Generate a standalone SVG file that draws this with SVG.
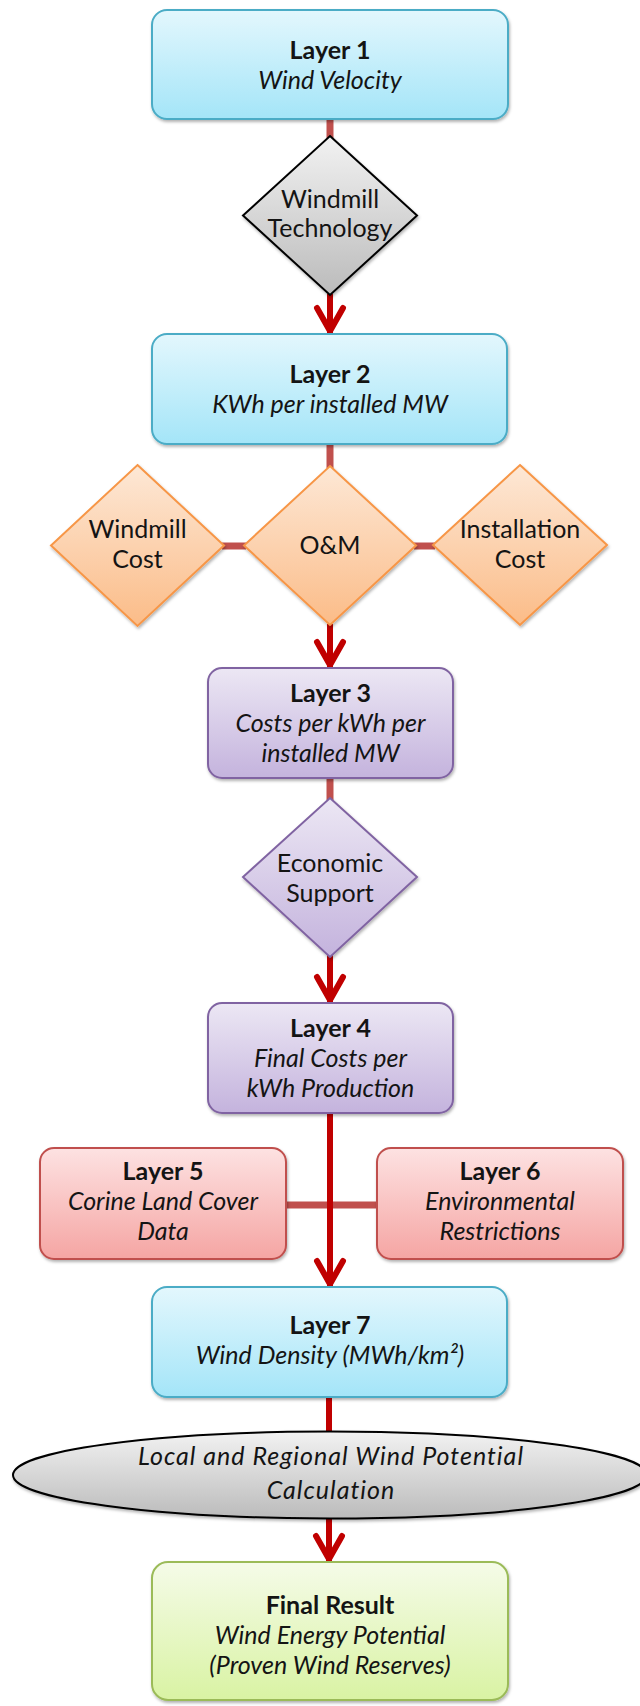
<svg xmlns="http://www.w3.org/2000/svg" width="640" height="1706" viewBox="0 0 640 1706">
  <style>
    text { font-family: Lato, "Liberation Sans", sans-serif; font-size: 25px; fill: #141414; text-anchor: middle; }
    .b { font-weight: bold; }
    .i { font-style: italic; }
    .blue { fill: url(#gBlue); stroke: #4BACC6; stroke-width: 2; filter: url(#sh); }
    .purple { fill: url(#gPurple); stroke: #8064A2; stroke-width: 2; filter: url(#sh); }
    .red { fill: url(#gRed); stroke: #C0504D; stroke-width: 2; filter: url(#sh); }
    .green { fill: url(#gGreen); stroke: #9BBB59; stroke-width: 2; filter: url(#sh); }
    .orange { fill: url(#gOrange); stroke: #F79646; stroke-width: 2; filter: url(#sh); }
    .gray { fill: url(#gGray); stroke: #000; stroke-width: 2; filter: url(#sh); }
    .link { stroke: #C0504D; stroke-width: 7; fill: none; }
    .arrow { stroke: #C00000; stroke-width: 6; fill: none; }
  </style>
  <defs>
    <linearGradient id="gBlue" x1="0" y1="0" x2="0" y2="1"><stop offset="0" stop-color="#E3F7FD"/><stop offset="1" stop-color="#A4E5F8"/></linearGradient>
    <linearGradient id="gPurple" x1="0" y1="0" x2="0" y2="1"><stop offset="0" stop-color="#ECE7F4"/><stop offset="1" stop-color="#C4B3DD"/></linearGradient>
    <linearGradient id="gRed" x1="0" y1="0" x2="0" y2="1"><stop offset="0" stop-color="#FDE2E2"/><stop offset="1" stop-color="#F5A5A3"/></linearGradient>
    <linearGradient id="gGreen" x1="0" y1="0" x2="0" y2="1"><stop offset="0" stop-color="#F5FBE8"/><stop offset="1" stop-color="#D9F3A3"/></linearGradient>
    <linearGradient id="gOrange" x1="0" y1="0" x2="0" y2="1"><stop offset="0" stop-color="#FDE8D6"/><stop offset="1" stop-color="#FBBC88"/></linearGradient>
    <linearGradient id="gGray" x1="0" y1="0" x2="0" y2="1"><stop offset="0" stop-color="#F2F2F2"/><stop offset="1" stop-color="#BBBBBB"/></linearGradient>
    <filter id="sh" x="-10%" y="-10%" width="120%" height="125%">
      <feDropShadow dx="1" dy="2" stdDeviation="1.5" flood-color="#000" flood-opacity="0.3"/>
    </filter>
    <marker id="ah" markerUnits="userSpaceOnUse" viewBox="-5 -18 34 36" refX="26" refY="0" markerWidth="34" markerHeight="36" orient="auto">
      <path d="M0,-13 L23,0 L0,13" fill="none" stroke="#C00000" stroke-width="6" stroke-linejoin="round" stroke-linecap="round"/>
    </marker>
  </defs>

  <g id="connectors">
    <line class="link" x1="330" y1="118" x2="330" y2="138"/>
    <line class="arrow" x1="330" y1="294" x2="330" y2="334" marker-end="url(#ah)"/>
    <line class="link" x1="330" y1="443" x2="330" y2="468"/>
    <line class="link" x1="222" y1="546" x2="246" y2="546"/>
    <line class="link" x1="414" y1="546" x2="435" y2="546"/>
    <line class="arrow" x1="330" y1="624" x2="330" y2="668" marker-end="url(#ah)"/>
    <line class="link" x1="330" y1="777" x2="330" y2="800"/>
    <line class="arrow" x1="330" y1="955" x2="330" y2="1003" marker-end="url(#ah)"/>
    <line class="link" x1="285" y1="1205" x2="378" y2="1205"/>
    <line class="arrow" x1="330" y1="1112" x2="330" y2="1287" marker-end="url(#ah)"/>
    <line class="arrow" x1="329" y1="1396" x2="329" y2="1434"/>
    <line class="arrow" x1="329" y1="1516" x2="329" y2="1562" marker-end="url(#ah)"/>
  </g>

  <g id="layer1">
    <rect class="blue" x="152" y="10" width="356" height="109" rx="15"/>
    <text class="b" x="330" y="59">Layer 1</text>
    <text class="i" x="330" y="89">Wind Velocity</text>
  </g>

  <g id="windmill-technology">
    <polygon class="gray" points="330,136 417,215.5 330,295 243,215.5"/>
    <text x="330" y="208">Windmill</text>
    <text x="330" y="237">Technology</text>
  </g>

  <g id="layer2">
    <rect class="blue" x="152" y="334" width="355" height="110" rx="15"/>
    <text class="b" x="330" y="383">Layer 2</text>
    <text class="i" x="330" y="413">KWh per installed MW</text>
  </g>

  <g id="windmill-cost">
    <polygon class="orange" points="137.5,465 224,545.5 137.5,626 51,545.5"/>
    <text x="137.5" y="538">Windmill</text>
    <text x="137.5" y="568">Cost</text>
  </g>

  <g id="om">
    <polygon class="orange" points="330,466 416,545.5 330,625 244,545.5"/>
    <text x="330" y="554">O&amp;M</text>
  </g>

  <g id="installation-cost">
    <polygon class="orange" points="520,465 607,545 520,625 433,545"/>
    <text x="520" y="538">Installation</text>
    <text x="520" y="568">Cost</text>
  </g>

  <g id="layer3">
    <rect class="purple" x="208" y="668" width="245" height="110" rx="14"/>
    <text class="b" x="330.5" y="702">Layer 3</text>
    <text class="i" x="330.5" y="732">Costs per kWh per</text>
    <text class="i" x="330.5" y="762">installed MW</text>
  </g>

  <g id="economic-support">
    <polygon class="purple" points="330,798 417,877 330,957 243,877"/>
    <text x="330" y="872">Economic</text>
    <text x="330" y="902">Support</text>
  </g>

  <g id="layer4">
    <rect class="purple" x="208" y="1003" width="245" height="110" rx="14"/>
    <text class="b" x="330.5" y="1037">Layer 4</text>
    <text class="i" x="330.5" y="1067">Final Costs per</text>
    <text class="i" x="330.5" y="1097">kWh Production</text>
  </g>

  <g id="layer5">
    <rect class="red" x="40" y="1148" width="246" height="111" rx="14"/>
    <text class="b" x="163" y="1180">Layer 5</text>
    <text class="i" x="163" y="1210">Corine Land Cover</text>
    <text class="i" x="163" y="1240">Data</text>
  </g>

  <g id="layer6">
    <rect class="red" x="377" y="1148" width="246" height="111" rx="14"/>
    <text class="b" x="500" y="1180">Layer 6</text>
    <text class="i" x="500" y="1210">Environmental</text>
    <text class="i" x="500" y="1240">Restrictions</text>
  </g>

  <g id="layer7">
    <rect class="blue" x="152" y="1287" width="355" height="110" rx="15"/>
    <text class="b" x="330" y="1334">Layer 7</text>
    <text class="i" x="330" y="1364">Wind Density (MWh/km²)</text>
  </g>

  <g id="calculation">
    <ellipse class="gray" cx="330" cy="1475" rx="317" ry="43.5"/>
    <text class="i" x="331" y="1465" letter-spacing="1">Local and Regional Wind Potential</text>
    <text class="i" x="331" y="1499" letter-spacing="1">Calculation</text>
  </g>

  <g id="final-result">
    <rect class="green" x="152" y="1562" width="356" height="138" rx="16"/>
    <text class="b" x="330" y="1614">Final Result</text>
    <text class="i" x="330" y="1644">Wind Energy Potential</text>
    <text class="i" x="330" y="1674">(Proven Wind Reserves)</text>
  </g>
</svg>
